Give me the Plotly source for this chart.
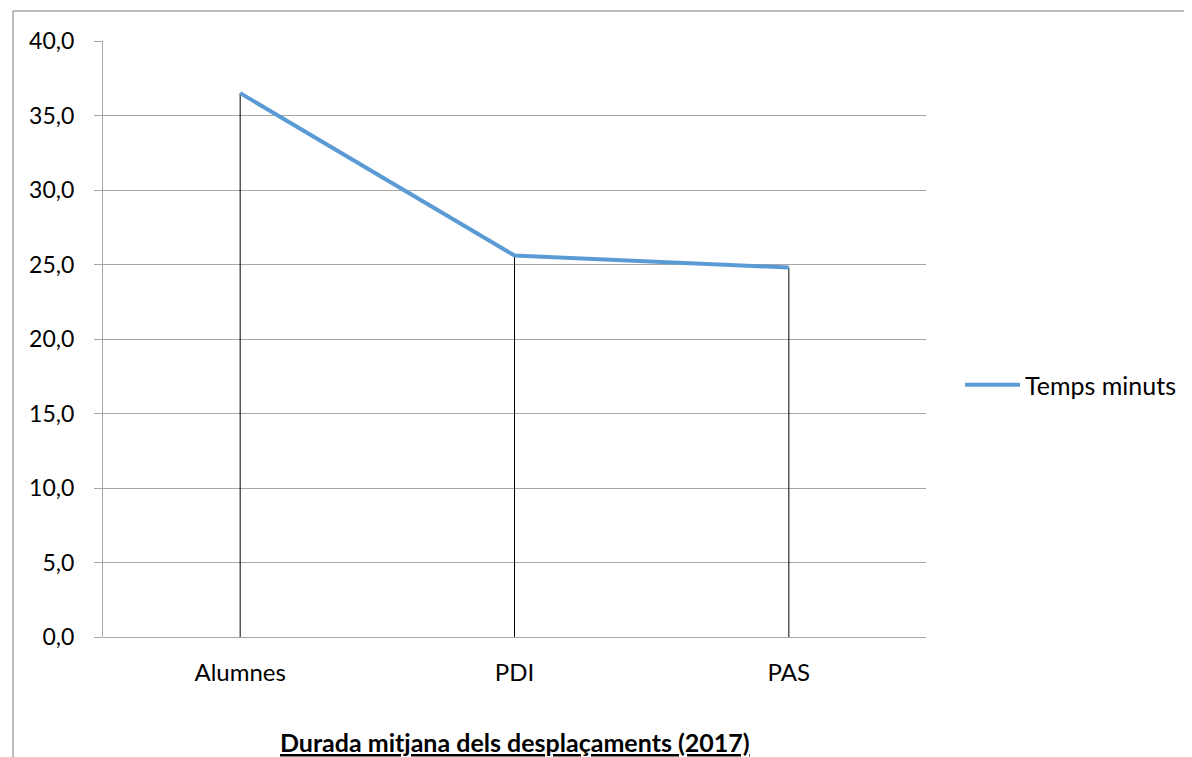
import plotly.graph_objects as go

categories = ["Alumnes", "PDI", "PAS"]
temps_minuts = [36.5, 25.6, 24.8]
series_name = "Temps minuts"
chart_title = "Durada mitjana dels desplaçaments (2017)"
y_ticks = [0, 5, 10, 15, 20, 25, 30, 35, 40]

FONT = "Lato, Carlito, Calibri, sans-serif"
OFF = 8  # default page body margin
W, H = 1192 - 2 * OFF, 757 - OFF
# target pixel positions in the window
L, R, T, B = 103, 926, 41, 637
l, r, t, b = L - OFF, R - OFF, T - OFF, B - OFF

drop_x, drop_y = [], []
for c, v in zip(categories, temps_minuts):
    drop_x += [c, c, None]
    drop_y += [0, v, None]

fig = go.Figure()
fig.add_trace(go.Scatter(x=drop_x, y=drop_y, mode="lines",
                         line=dict(color="black", width=1),
                         showlegend=False, hoverinfo="skip"))
fig.add_trace(go.Scatter(x=categories, y=temps_minuts, mode="lines",
                         name=series_name,
                         line=dict(color="#5b9bd5", width=4)))

def px_x(p):
    return (p - L) / (R - L)

def px_y(p):
    return (B - p) / (B - T)

gray = "#a6a6a6"
fig.add_shape(type="line", xref="paper", yref="paper",
              x0=px_x(13), x1=px_x(1200), y0=px_y(11), y1=px_y(11),
              line=dict(color=gray, width=1.5))
fig.add_shape(type="line", xref="paper", yref="paper",
              x0=px_x(13), x1=px_x(13), y0=px_y(11), y1=px_y(770),
              line=dict(color=gray, width=1.5))

fig.add_annotation(text="<b><u>" + chart_title + "</u></b>",
                   xref="paper", yref="paper", x=0.5, y=px_y(742),
                   xanchor="center", yanchor="middle", showarrow=False,
                   font=dict(family=FONT, size=25, color="black"))

fig.update_layout(
    width=W, height=H,
    margin=dict(l=l, r=W - r, t=t, b=H - b, pad=0, autoexpand=False),
    paper_bgcolor="white", plot_bgcolor="white",
    separators=",.",
    font=dict(family=FONT, size=21, color="black"),
    showlegend=True,
    legend=dict(x=px_x(960), y=px_y(385), xanchor="left", yanchor="middle",
                itemwidth=55, font=dict(family=FONT, size=25, color="black"),
                bgcolor="rgba(0,0,0,0)", tracegroupgap=0),
    xaxis=dict(type="category", range=[-0.5, 2.5], showgrid=False,
               showline=False, zeroline=False, ticks="",
               tickfont=dict(family=FONT, size=24, color="black"),
               ticklabelstandoff=19, fixedrange=True, automargin=False),
    yaxis=dict(range=[0, 40], tickvals=y_ticks, tickformat=".1f",
               showgrid=True, gridcolor=gray, gridwidth=1.2,
               showline=True, linecolor=gray, linewidth=1.2,
               zeroline=True, zerolinecolor=gray, zerolinewidth=1.2,
               ticks="outside", ticklen=8, tickcolor=gray, tickwidth=1.2,
               tickfont=dict(family=FONT, size=23, color="black"),
               ticklabelstandoff=15, fixedrange=True, automargin=False),
)

fig.write_html("out.html")
